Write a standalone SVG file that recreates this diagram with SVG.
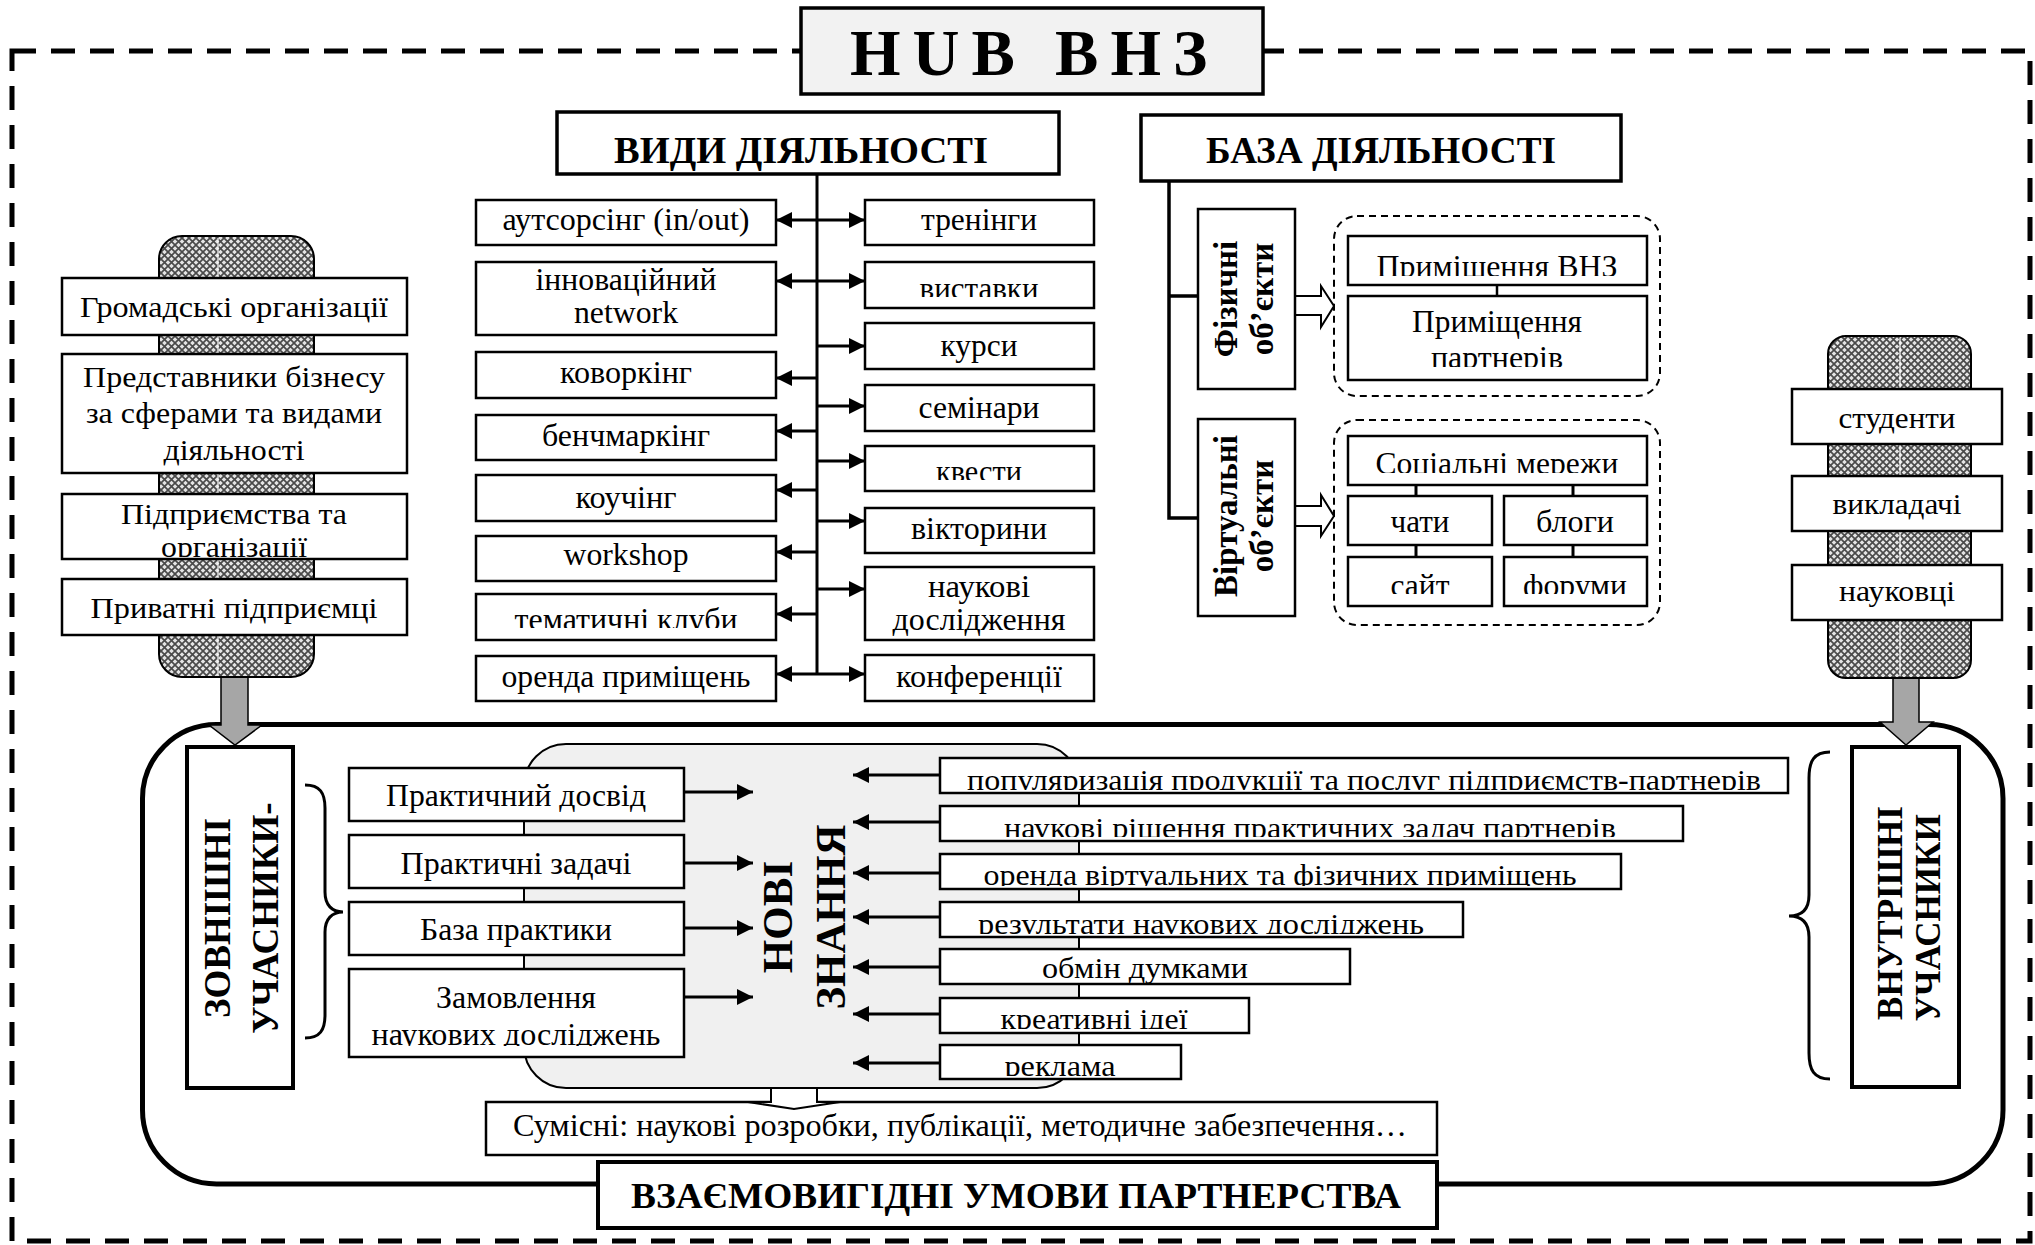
<svg xmlns="http://www.w3.org/2000/svg" width="2035" height="1245" viewBox="0 0 2035 1245">
  <style>
    .t{font-family:'Liberation Serif','Times New Roman',serif;font-size:30px;fill:#000}
    .m{text-anchor:middle}
    .b{font-weight:bold}
    .bx{fill:#fff;stroke:#000;stroke-width:2.5}
    .hd{fill:#fff;stroke:#000;stroke-width:3.5}
    .ln{fill:none;stroke:#000;stroke-width:3}
    .ar{fill:none;stroke:#000;stroke-width:3;marker-end:url(#ah)}
    .dg{fill:none;stroke:#000;stroke-width:2;stroke-dasharray:7 5}
    .ho{fill:#fff;stroke:#000;stroke-width:2}
    .gr{fill:#a6a6a6;stroke:#000;stroke-width:1.5}
    .seam{stroke:#fff;stroke-width:1.5;opacity:0.8}
  </style>
  <defs>
    <marker id="ah" viewBox="0 0 16 16" refX="16" refY="8" markerWidth="16" markerHeight="16" markerUnits="userSpaceOnUse" orient="auto">
      <path d="M0,0 L16,8 L0,16 z" fill="#000"/>
    </marker>
    <pattern id="hatch" width="7" height="7" patternUnits="userSpaceOnUse">
      <rect width="7" height="7" fill="#e4e4e4"/>
      <path d="M0,0 L7,7 M7,0 L0,7" stroke="#4a4a4a" stroke-width="1.7"/>
    </pattern>
    <clipPath id="c-vyst"><rect x="865" y="262" width="229" height="35"/></clipPath>
    <clipPath id="c-kvest"><rect x="865" y="446" width="229" height="34"/></clipPath>
    <clipPath id="c-klub"><rect x="476" y="594" width="300" height="34"/></clipPath>
    <clipPath id="c-pvnz"><rect x="1348" y="236" width="299" height="40"/></clipPath>
    <clipPath id="c-ppart"><rect x="1348" y="296" width="299" height="71"/></clipPath>
    <clipPath id="c-soc"><rect x="1348" y="436" width="299" height="37"/></clipPath>
    <clipPath id="c-sait"><rect x="1348" y="557" width="144" height="37"/></clipPath>
    <clipPath id="c-forum"><rect x="1504" y="557" width="143" height="37"/></clipPath>
    <clipPath id="c-pidpr"><rect x="62" y="494" width="345" height="63"/></clipPath>
    <clipPath id="c-zamov"><rect x="349" y="969" width="335" height="77"/></clipPath>
    <clipPath id="c-r1"><rect x="940" y="758" width="848" height="32"/></clipPath>
    <clipPath id="c-r2"><rect x="940" y="806" width="743" height="31"/></clipPath>
    <clipPath id="c-r3"><rect x="940" y="854" width="681" height="32"/></clipPath>
    <clipPath id="c-r4"><rect x="940" y="902" width="523" height="32"/></clipPath>
    <clipPath id="c-r6"><rect x="940" y="998" width="309" height="31"/></clipPath>
    <clipPath id="c-r7"><rect x="940" y="1045" width="241" height="31"/></clipPath>
  </defs>

  <rect width="2035" height="1245" fill="#fff"/>

  <!-- outer dashed frame of the hub -->
  <rect x="12" y="51" width="2018" height="1190" fill="none" stroke="#000" stroke-width="5" stroke-dasharray="24 15"/>

  <!-- partnership frame -->
  <rect id="partnership-frame" x="142.5" y="724.5" width="1860.5" height="459.5" rx="74" fill="none" stroke="#000" stroke-width="5"/>

  <!-- title -->
  <g id="hub-title">
    <rect x="801" y="8" width="462" height="86" fill="#f2f2f2" stroke="#000" stroke-width="3.5"/>
    <text class="t b" x="850" y="75" style="font-size:65px;letter-spacing:12px">HUB ВНЗ</text>
  </g>

  <!-- connectors -->
  <g id="connectors">
    <!-- activities trunk -->
    <line class="ln" x1="817" y1="174" x2="817" y2="675"/>
    <line class="ar" x1="817" y1="220" x2="776" y2="220"/>
    <line class="ar" x1="817" y1="220" x2="865" y2="220"/>
    <line class="ar" x1="817" y1="281" x2="776" y2="281"/>
    <line class="ar" x1="817" y1="281" x2="865" y2="281"/>
    <line class="ar" x1="817" y1="346" x2="865" y2="346"/>
    <line class="ar" x1="817" y1="378" x2="776" y2="378"/>
    <line class="ar" x1="817" y1="406" x2="865" y2="406"/>
    <line class="ar" x1="817" y1="431" x2="776" y2="431"/>
    <line class="ar" x1="817" y1="461" x2="865" y2="461"/>
    <line class="ar" x1="817" y1="490" x2="776" y2="490"/>
    <line class="ar" x1="817" y1="521" x2="865" y2="521"/>
    <line class="ar" x1="817" y1="552" x2="776" y2="552"/>
    <line class="ar" x1="817" y1="589" x2="865" y2="589"/>
    <line class="ar" x1="817" y1="614" x2="776" y2="614"/>
    <line class="ar" x1="817" y1="674" x2="776" y2="674"/>
    <line class="ar" x1="817" y1="674" x2="865" y2="674"/>
    <!-- base trunk -->
    <path class="ln" d="M1169,181 L1169,518 L1198,518 M1169,296 L1198,296" style="stroke-width:3.5"/>
    <!-- hollow arrows to object groups -->
    <polygon class="ho" points="1295,296 1321,296 1321,286 1334,306 1321,327 1321,315 1295,315"/>
    <polygon class="ho" points="1295,506 1321,506 1321,495 1334,516 1321,536 1321,526 1295,526"/>
    <!-- links inside object groups -->
    <line class="ln" x1="1497" y1="285" x2="1497" y2="296" style="stroke-width:2.5"/>
    <line class="ln" x1="1416" y1="485" x2="1416" y2="557"/>
    <line class="ln" x1="1573" y1="485" x2="1573" y2="557"/>
    <!-- participant inflows -->
    <polygon class="gr" points="221,668 248,668 248,725 262,725 235,745 209,725 221,725"/>
    <polygon class="gr" points="1893,668 1919,668 1919,722 1933,722 1906,745 1880,722 1893,722"/>
  </g>

  <!-- activity types -->
  <g id="activities-title">
    <rect class="hd" x="557" y="112" width="502" height="62"/>
    <text class="t b m" x="801" y="163" style="font-size:38px" textLength="374" lengthAdjust="spacingAndGlyphs">ВИДИ ДІЯЛЬНОСТІ</text>
  </g>
  <g id="act-outsourcing"><rect class="bx" x="476" y="200" width="300" height="45"/><text class="t m" x="626" y="230" style="font-size:32px" textLength="247" lengthAdjust="spacingAndGlyphs">аутсорсінг (in/out)</text></g>
  <g id="act-network"><rect class="bx" x="476" y="262" width="300" height="73"/><text class="t m" x="626" y="290" style="font-size:32px" textLength="181" lengthAdjust="spacingAndGlyphs">інноваційний</text><text class="t m" x="626" y="323" style="font-size:32px" textLength="104" lengthAdjust="spacingAndGlyphs">network</text></g>
  <g id="act-coworking"><rect class="bx" x="476" y="352" width="300" height="46"/><text class="t m" x="626" y="383" style="font-size:32px" textLength="132" lengthAdjust="spacingAndGlyphs">коворкінг</text></g>
  <g id="act-benchmarking"><rect class="bx" x="476" y="415" width="300" height="45"/><text class="t m" x="626" y="446" style="font-size:32px" textLength="168" lengthAdjust="spacingAndGlyphs">бенчмаркінг</text></g>
  <g id="act-coaching"><rect class="bx" x="476" y="475" width="300" height="46"/><text class="t m" x="626" y="508" style="font-size:32px" textLength="101" lengthAdjust="spacingAndGlyphs">коучінг</text></g>
  <g id="act-workshop"><rect class="bx" x="476" y="536" width="300" height="45"/><text class="t m" x="626" y="565" style="font-size:32px" textLength="125" lengthAdjust="spacingAndGlyphs">workshop</text></g>
  <g id="act-clubs"><rect class="bx" x="476" y="594" width="300" height="46"/><text class="t m" x="626" y="630" style="font-size:32px" textLength="223" lengthAdjust="spacingAndGlyphs" clip-path="url(#c-klub)">тематичні клуби</text></g>
  <g id="act-rent"><rect class="bx" x="476" y="656" width="300" height="45"/><text class="t m" x="626" y="687" style="font-size:32px" textLength="249" lengthAdjust="spacingAndGlyphs">оренда приміщень</text></g>

  <g id="act-trainings"><rect class="bx" x="865" y="200" width="229" height="45"/><text class="t m" x="979" y="230" style="font-size:32px" textLength="116" lengthAdjust="spacingAndGlyphs">тренінги</text></g>
  <g id="act-exhibitions"><rect class="bx" x="865" y="262" width="229" height="46"/><text class="t m" x="979" y="299" style="font-size:32px" textLength="119" lengthAdjust="spacingAndGlyphs" clip-path="url(#c-vyst)">виставки</text></g>
  <g id="act-courses"><rect class="bx" x="865" y="323" width="229" height="46"/><text class="t m" x="979" y="356" style="font-size:32px" textLength="77" lengthAdjust="spacingAndGlyphs">курси</text></g>
  <g id="act-seminars"><rect class="bx" x="865" y="385" width="229" height="46"/><text class="t m" x="979" y="418" style="font-size:32px" textLength="121" lengthAdjust="spacingAndGlyphs">семінари</text></g>
  <g id="act-quests"><rect class="bx" x="865" y="446" width="229" height="45"/><text class="t m" x="979" y="482" style="font-size:32px" textLength="86" lengthAdjust="spacingAndGlyphs" clip-path="url(#c-kvest)">квести</text></g>
  <g id="act-quizzes"><rect class="bx" x="865" y="508" width="229" height="45"/><text class="t m" x="979" y="539" style="font-size:32px" textLength="136" lengthAdjust="spacingAndGlyphs">вікторини</text></g>
  <g id="act-research"><rect class="bx" x="865" y="567" width="229" height="73"/><text class="t m" x="979" y="597" style="font-size:32px" textLength="102" lengthAdjust="spacingAndGlyphs">наукові</text><text class="t m" x="979" y="630" style="font-size:32px" textLength="173" lengthAdjust="spacingAndGlyphs">дослідження</text></g>
  <g id="act-conferences"><rect class="bx" x="865" y="655" width="229" height="46"/><text class="t m" x="979" y="687" style="font-size:32px" textLength="166" lengthAdjust="spacingAndGlyphs">конференції</text></g>

  <!-- activity base -->
  <g id="base-title">
    <rect class="hd" x="1141" y="115" width="480" height="66"/>
    <text class="t b m" x="1381" y="163" style="font-size:38px" textLength="350" lengthAdjust="spacingAndGlyphs">БАЗА ДІЯЛЬНОСТІ</text>
  </g>
  <g id="physical-objects">
    <rect class="bx" x="1198" y="209" width="97" height="180"/>
    <text class="t b m" transform="translate(1237,299) rotate(-90)" style="font-size:33px">Фізичні</text>
    <text class="t b m" transform="translate(1273,299) rotate(-90)" style="font-size:33px">об’єкти</text>
  </g>
  <g id="virtual-objects">
    <rect class="bx" x="1198" y="419" width="97" height="197"/>
    <text class="t b m" transform="translate(1237,516) rotate(-90)" style="font-size:33px">Віртуальні</text>
    <text class="t b m" transform="translate(1273,516) rotate(-90)" style="font-size:33px">об’єкти</text>
  </g>
  <g id="physical-group">
    <rect class="dg" x="1334" y="216" width="326" height="180" rx="23"/>
    <rect class="bx" x="1348" y="236" width="299" height="49"/>
    <text class="t m" x="1497" y="277" style="font-size:32px" textLength="241" lengthAdjust="spacingAndGlyphs" clip-path="url(#c-pvnz)">Приміщення ВНЗ</text>
    <rect class="bx" x="1348" y="296" width="299" height="84"/>
    <g clip-path="url(#c-ppart)">
      <text class="t m" x="1497" y="332" style="font-size:32px" textLength="170" lengthAdjust="spacingAndGlyphs">Приміщення</text>
      <text class="t m" x="1497" y="368" style="font-size:32px" textLength="132" lengthAdjust="spacingAndGlyphs">партнерів</text>
    </g>
  </g>
  <g id="virtual-group">
    <rect class="dg" x="1334" y="420" width="326" height="205" rx="23"/>
    <rect class="bx" x="1348" y="436" width="299" height="49"/>
    <text class="t m" x="1497" y="474" style="font-size:32px" textLength="243" lengthAdjust="spacingAndGlyphs" clip-path="url(#c-soc)">Соціальні мережи</text>
    <rect class="bx" x="1348" y="496" width="144" height="49"/>
    <text class="t m" x="1420" y="532" style="font-size:32px" textLength="59" lengthAdjust="spacingAndGlyphs">чати</text>
    <rect class="bx" x="1504" y="496" width="143" height="49"/>
    <text class="t m" x="1575" y="532" style="font-size:32px" textLength="78" lengthAdjust="spacingAndGlyphs">блоги</text>
    <rect class="bx" x="1348" y="557" width="144" height="49"/>
    <text class="t m" x="1420" y="596" style="font-size:32px" textLength="59" lengthAdjust="spacingAndGlyphs" clip-path="url(#c-sait)">сайт</text>
    <rect class="bx" x="1504" y="557" width="143" height="49"/>
    <text class="t m" x="1575" y="596" style="font-size:32px" textLength="104" lengthAdjust="spacingAndGlyphs" clip-path="url(#c-forum)">форуми</text>
  </g>

  <!-- external participants -->
  <g id="external-stack">
    <rect x="159" y="236" width="155" height="441" rx="23" fill="url(#hatch)" stroke="#000" stroke-width="2"/>
    <line class="seam" x1="218" y1="238" x2="218" y2="675"/>
    <rect class="bx" x="62" y="278" width="345" height="57"/>
    <text class="t m" x="234" y="317" textLength="308" lengthAdjust="spacingAndGlyphs">Громадські організації</text>
    <rect class="bx" x="62" y="354" width="345" height="119"/>
    <text class="t m" x="234" y="387" textLength="302" lengthAdjust="spacingAndGlyphs">Представники бізнесу</text>
    <text class="t m" x="234" y="423" textLength="296" lengthAdjust="spacingAndGlyphs">за сферами та видами</text>
    <text class="t m" x="234" y="460" textLength="141" lengthAdjust="spacingAndGlyphs">діяльності</text>
    <rect class="bx" x="62" y="494" width="345" height="65"/>
    <g clip-path="url(#c-pidpr)">
      <text class="t m" x="234" y="524" textLength="226" lengthAdjust="spacingAndGlyphs">Підприємства та</text>
      <text class="t m" x="234" y="557" textLength="146" lengthAdjust="spacingAndGlyphs">організації</text>
    </g>
    <rect class="bx" x="62" y="579" width="345" height="56"/>
    <text class="t m" x="234" y="618" textLength="287" lengthAdjust="spacingAndGlyphs">Приватні підприємці</text>
  </g>

  <!-- internal participants -->
  <g id="internal-stack">
    <rect x="1828" y="336" width="143" height="342" rx="18" fill="url(#hatch)" stroke="#000" stroke-width="2"/>
    <line class="seam" x1="1900" y1="338" x2="1900" y2="676"/>
    <rect class="bx" x="1792" y="389" width="210" height="55"/>
    <text class="t m" x="1897" y="428" textLength="117" lengthAdjust="spacingAndGlyphs">студенти</text>
    <rect class="bx" x="1792" y="476" width="210" height="55"/>
    <text class="t m" x="1897" y="514" textLength="129" lengthAdjust="spacingAndGlyphs">викладачі</text>
    <rect class="bx" x="1792" y="565" width="210" height="55"/>
    <text class="t m" x="1897" y="601" textLength="116" lengthAdjust="spacingAndGlyphs">науковці</text>
  </g>

  <!-- new knowledge core -->
  <g id="new-knowledge">
    <rect x="524" y="744" width="555" height="344" rx="42" fill="#f0f0f0" stroke="#000" stroke-width="2"/>
    <text class="t b m" transform="translate(792,917) rotate(-90)" style="font-size:43px">НОВІ</text>
    <text class="t b m" transform="translate(845,917) rotate(-90)" style="font-size:43px">ЗНАННЯ</text>
  </g>

  <g id="external-label">
    <rect x="187" y="747" width="106" height="341" fill="#fff" stroke="#000" stroke-width="4"/>
    <text class="t b m" transform="translate(230,918) rotate(-90)" style="font-size:37px">ЗОВНІШНІ</text>
    <text class="t b m" transform="translate(278,918) rotate(-90)" style="font-size:37px">УЧАСНИКИ-</text>
    <path class="ln" d="M305,785 C320,785 325,793 325,808 L325,892 C325,905 332,912 343,912 C332,912 325,919 325,932 L325,1015 C325,1030 320,1038 305,1038"/>
  </g>

  <g id="internal-label">
    <rect x="1852" y="747" width="107" height="340" fill="#fff" stroke="#000" stroke-width="4"/>
    <text class="t b m" transform="translate(1902,913) rotate(-90)" style="font-size:35px">ВНУТРІШНІ</text>
    <text class="t b m" transform="translate(1940,918) rotate(-90)" style="font-size:35px">УЧАСНИКИ</text>
    <path class="ln" d="M1830,752 C1814,752 1809,761 1809,778 L1809,895 C1809,909 1802,916 1789,916 C1802,916 1809,923 1809,937 L1809,1053 C1809,1070 1814,1079 1830,1079"/>
  </g>

  <!-- contributions of external participants -->
  <g id="ext-contributions">
    <rect class="bx" x="349" y="768" width="335" height="53"/>
    <text class="t m" x="516" y="806" style="font-size:31px" textLength="260" lengthAdjust="spacingAndGlyphs">Практичний досвід</text>
    <rect class="bx" x="349" y="835" width="335" height="53"/>
    <text class="t m" x="516" y="874" style="font-size:31px" textLength="231" lengthAdjust="spacingAndGlyphs">Практичні задачі</text>
    <rect class="bx" x="349" y="902" width="335" height="53"/>
    <text class="t m" x="516" y="940" style="font-size:31px" textLength="192" lengthAdjust="spacingAndGlyphs">База практики</text>
    <rect class="bx" x="349" y="969" width="335" height="88"/>
    <g clip-path="url(#c-zamov)">
      <text class="t m" x="516" y="1008" style="font-size:31px" textLength="160" lengthAdjust="spacingAndGlyphs">Замовлення</text>
      <text class="t m" x="516" y="1045" style="font-size:31px" textLength="289" lengthAdjust="spacingAndGlyphs">наукових досліджень</text>
    </g>
  </g>

  <!-- contributions of internal participants -->
  <g id="int-contributions">
    <rect class="bx" x="940" y="758" width="848" height="35"/>
    <text class="t m" x="1364" y="790" textLength="794" lengthAdjust="spacingAndGlyphs" clip-path="url(#c-r1)">популяризація продукції та послуг підприємств-партнерів</text>
    <rect class="bx" x="940" y="806" width="743" height="35"/>
    <text class="t m" x="1310" y="838" textLength="612" lengthAdjust="spacingAndGlyphs" clip-path="url(#c-r2)">наукові рішення практичних задач партнерів</text>
    <rect class="bx" x="940" y="854" width="681" height="35"/>
    <text class="t m" x="1280" y="885" textLength="593" lengthAdjust="spacingAndGlyphs" clip-path="url(#c-r3)">оренда віртуальних та фізичних приміщень</text>
    <rect class="bx" x="940" y="902" width="523" height="35"/>
    <text class="t m" x="1201" y="934" textLength="446" lengthAdjust="spacingAndGlyphs" clip-path="url(#c-r4)">результати наукових досліджень</text>
    <rect class="bx" x="940" y="949" width="410" height="35"/>
    <text class="t m" x="1145" y="978" textLength="206" lengthAdjust="spacingAndGlyphs">обмін думками</text>
    <rect class="bx" x="940" y="998" width="309" height="35"/>
    <text class="t m" x="1094" y="1029" textLength="187" lengthAdjust="spacingAndGlyphs" clip-path="url(#c-r6)">креативні ідеї</text>
    <rect class="bx" x="940" y="1045" width="241" height="34"/>
    <text class="t m" x="1060" y="1076" textLength="111" lengthAdjust="spacingAndGlyphs" clip-path="url(#c-r7)">реклама</text>
  </g>

  <!-- flows into the knowledge core -->
  <g id="knowledge-arrows">
    <line class="ar" x1="684" y1="792" x2="753" y2="792"/>
    <line class="ar" x1="684" y1="863" x2="753" y2="863"/>
    <line class="ar" x1="684" y1="928" x2="753" y2="928"/>
    <line class="ar" x1="684" y1="997" x2="753" y2="997"/>
    <line class="ar" x1="940" y1="775" x2="853" y2="775"/>
    <line class="ar" x1="940" y1="822" x2="853" y2="822"/>
    <line class="ar" x1="940" y1="873" x2="853" y2="873"/>
    <line class="ar" x1="940" y1="917" x2="853" y2="917"/>
    <line class="ar" x1="940" y1="967" x2="853" y2="967"/>
    <line class="ar" x1="940" y1="1014" x2="853" y2="1014"/>
    <line class="ar" x1="940" y1="1063" x2="853" y2="1063"/>
  </g>

  <g id="joint-results">
    <rect class="bx" x="486" y="1102" width="951" height="53"/>
    <text class="t m" x="960" y="1136" style="font-size:31px" textLength="894" lengthAdjust="spacingAndGlyphs">Сумісні: наукові розробки, публікації, методичне забезпечення…</text>
    <polygon class="ho" points="771,1088 771,1102 748,1102 794,1109 840,1102 817,1102 817,1088"/>
  </g>

  <g id="partnership-label">
    <rect x="598" y="1162" width="839" height="66" fill="#fff" stroke="#000" stroke-width="4"/>
    <text class="t b m" x="1016" y="1208" style="font-size:36px" textLength="770" lengthAdjust="spacingAndGlyphs">ВЗАЄМОВИГІДНІ УМОВИ ПАРТНЕРСТВА</text>
  </g>
</svg>
